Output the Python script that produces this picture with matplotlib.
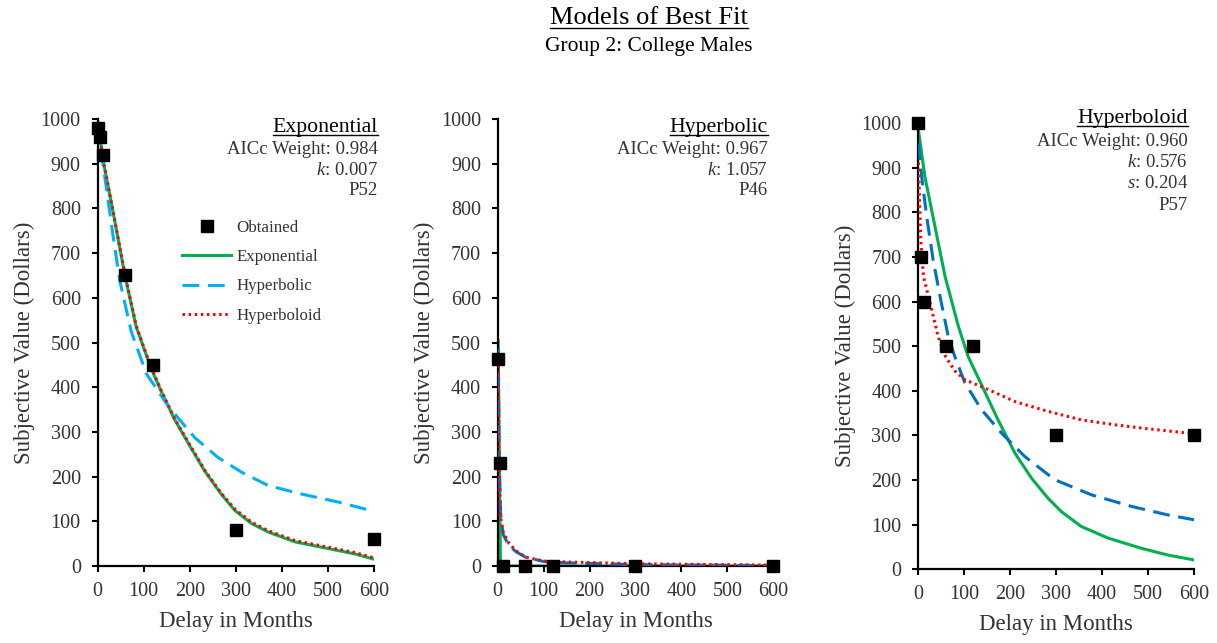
import matplotlib.pyplot as plt
from matplotlib.lines import Line2D

plt.rcParams['font.family'] = ['Liberation Serif', 'DejaVu Serif']
plt.rcParams['mathtext.fontset'] = 'custom'
plt.rcParams['mathtext.rm'] = 'Liberation Serif'
plt.rcParams['mathtext.it'] = 'Liberation Serif:italic'

TXT = '#333333'
GREEN = '#00B050'
LBLUE = '#00B0F0'
DBLUE = '#0070C0'
RED = '#FF0000'

# delays (months) of the obtained points
delays = [1, 6, 12, 60, 120, 300, 600]

# panel 1 - exponential best fit
p1_obtained = [980, 960, 920, 650, 450, 80, 60]
p1_exp_x = [1, 12, 33, 60, 84, 115, 138, 167, 200, 232, 268, 298, 334, 370, 428, 500, 558, 600]
p1_exp_y = [993, 908, 796, 647, 535, 445, 391, 328, 269, 213, 161, 124, 95, 76, 54, 39, 27, 15]
p1_hyp_x = [1, 4, 19, 33, 48, 73, 106, 156, 211, 261, 312, 370, 442, 522, 600]
p1_hyp_y = [988, 953, 848, 744, 640, 525, 430, 354, 287, 243, 210, 180, 161, 143, 122]
p1_hb_x = [1, 12, 33, 60, 84, 115, 138, 167, 200, 232, 268, 298, 334, 370, 428, 500, 558, 600]
p1_hb_y = [993, 910, 798, 649, 537, 447, 393, 330, 271, 215, 163, 127, 98, 79, 57, 42, 30, 18]

# panel 2 - hyperbolic best fit
p2_obtained = [463, 230, 0, 0, 0, 0, 0]
p2_exp_x = [1, 6, 12, 60, 120, 300, 600]
p2_exp_y = [505, 0, 0, 0, 0, 0, 0]
p2_hyp_x = [1, 3, 6, 12, 25, 40, 60, 100, 150, 300, 600]
p2_hyp_y = [486, 240, 120, 70, 45, 32, 20, 10, 7, 3, 1]
p2_hb_x = [1, 3, 6, 12, 25, 40, 60, 100, 150, 300, 600]
p2_hb_y = [475, 230, 110, 75, 50, 34, 20, 11, 9, 5, 2]

# panel 3 - hyperboloid best fit
p3_obtained = [1000, 700, 600, 500, 500, 300, 300]
p3_exp_x = [1, 15, 37, 59, 88, 109, 138, 174, 211, 247, 283, 312, 355, 413, 486, 543, 600]
p3_exp_y = [985, 880, 768, 656, 544, 477, 414, 335, 260, 204, 159, 129, 96, 70, 47, 32, 21]
p3_hyp_x = [1, 8, 19, 33, 51, 66, 80, 102, 138, 182, 232, 297, 377, 464, 543, 600]
p3_hyp_y = [955, 880, 790, 693, 596, 521, 477, 418, 358, 305, 253, 201, 167, 141, 122, 111]
p3_hb_x = [1, 6, 12, 30, 44, 60, 80, 102, 153, 211, 283, 355, 428, 500, 600]
p3_hb_y = [912, 737, 656, 581, 521, 477, 445, 425, 403, 376, 354, 335, 324, 315, 304]

panel_titles = ['Exponential', 'Hyperbolic', 'Hyperboloid']
panel_notes = [
    ['AICc Weight: 0.984', '$k$: 0.007', 'P52'],
    ['AICc Weight: 0.967', '$k$: 1.057', 'P46'],
    ['AICc Weight: 0.960', '$k$: 0.576', '$s$: 0.204', 'P57'],
]

fig = plt.figure(figsize=(12.17, 6.43), dpi=100)
W, H = 1217, 643


def add_axes(x0, x1, ytop, ybot):
    return fig.add_axes([x0 / W, 1 - ybot / H, (x1 - x0) / W, (ybot - ytop) / H])


axes = [add_axes(97.5, 374.3, 119, 566),
        add_axes(497.7, 773.3, 119, 566),
        add_axes(918, 1194, 123.3, 569.3)]

data = [
    (p1_obtained, p1_exp_x, p1_exp_y, p1_hyp_x, p1_hyp_y, p1_hb_x, p1_hb_y, LBLUE),
    (p2_obtained, p2_exp_x, p2_exp_y, p2_hyp_x, p2_hyp_y, p2_hb_x, p2_hb_y, DBLUE),
    (p3_obtained, p3_exp_x, p3_exp_y, p3_hyp_x, p3_hyp_y, p3_hb_x, p3_hb_y, DBLUE),
]

for ax, (obt, ex, ey, hx, hy, bx, by, bcol) in zip(axes, data):
    ax.plot(delays, obt, 's', color='black', ms=8, zorder=5, clip_on=False, label='Obtained')
    ax.plot(ex, ey, '-', color=GREEN, lw=2.2, zorder=2, label='Exponential')
    ax.plot(hx, hy, '--', color=bcol, lw=2.2, dashes=(5.5, 2.8), zorder=3, label='Hyperbolic')
    ax.plot(bx, by, ':', color=RED, lw=2.2, dashes=(0.8, 1.2), zorder=4, label='Hyperboloid')

    ax.set_xlim(0, 600)
    ax.set_ylim(0, 1000)
    ax.set_xticks(range(0, 601, 100))
    ax.set_yticks(range(0, 1001, 100))
    for s in ['top', 'right']:
        ax.spines[s].set_visible(False)
    for s in ['left', 'bottom']:
        ax.spines[s].set_linewidth(1.6)
        ax.spines[s].set_color('black')
    ax.tick_params(direction='out', length=4.5, width=1.5, colors='black',
                   labelcolor=TXT, labelsize=14.5)
    ax.tick_params(axis='x', pad=7)
    ax.tick_params(axis='y', pad=7.5)
    ax.set_xlabel('Delay in Months', fontsize=16.5, color=TXT, labelpad=7)
    ax.set_ylabel('Subjective Value (Dollars)', fontsize=16.5, color=TXT, labelpad=4)

# legend in first panel
leg = axes[0].legend(loc='upper left', bbox_to_anchor=(182 / W, 1 - 220 / H),
                     bbox_transform=fig.transFigure, frameon=False, fontsize=12.2,
                     handlelength=2.9, handletextpad=0.3, labelspacing=0.78,
                     borderpad=0, borderaxespad=0)
for t in leg.get_texts():
    t.set_color(TXT)

# annotations: (right x, y of title, step) in axes fractions
ann_pos = [(1.013, 0.982, 0.046), (0.98, 0.982, 0.046), (0.977, 1.011, 0.048)]
titles = []
for ax, title, notes, (xr, yt, step) in zip(axes, panel_titles, panel_notes, ann_pos):
    t = ax.text(xr, yt, title, transform=ax.transAxes, ha='right', va='center',
                fontsize=15.7, color='black')
    titles.append(t)
    for i, n in enumerate(notes):
        ax.text(xr, yt - 0.051 - step * i, n, transform=ax.transAxes, ha='right',
                va='center', fontsize=13.5, color=TXT)

main = fig.text(649 / W, 1 - 18 / H, 'Models of Best Fit', ha='center', va='center',
                fontsize=19, color='black')
fig.text(649 / W, 1 - 46 / H, 'Group 2: College Males', ha='center', va='center',
         fontsize=15.5, color='black')
titles.append(main)

# underline the titles
fig.canvas.draw()
r = fig.canvas.get_renderer()
for t in titles:
    bb = t.get_window_extent(r)
    y = (bb.y0 + 1.5) / H
    fig.add_artist(Line2D([bb.x0 / W, bb.x1 / W], [y, y], color='black', lw=1))

fig.savefig('out.png', dpi=100)
